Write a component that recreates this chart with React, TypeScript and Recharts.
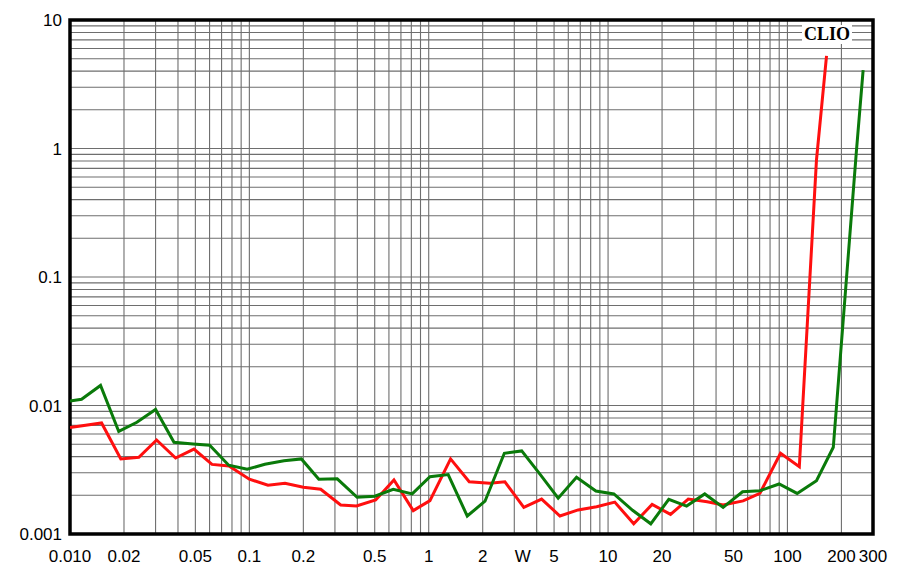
import { LineChart, Line, XAxis, YAxis, CartesianGrid, ReferenceArea } from 'recharts'

// red trace
const RED_X = [0.01, 0.015, 0.0192, 0.0242, 0.0304, 0.0388, 0.0491, 0.0619, 0.077, 0.1, 0.127, 0.158, 0.2, 0.25, 0.323, 0.396, 0.506, 0.64, 0.82, 1.016, 1.324, 1.682, 2.19, 2.66, 3.39, 4.26, 5.39, 6.81, 8.63, 10.9, 13.9, 17.6, 22.3, 28.0, 35.7, 43.8, 56.6, 70.2, 91.5, 116.5, 145.2, 165.2]
const RED_Y = [0.00674, 0.00731, 0.00384, 0.00395, 0.00539, 0.0039, 0.00458, 0.00348, 0.00338, 0.00267, 0.0024, 0.00248, 0.00231, 0.00223, 0.00168, 0.00165, 0.00184, 0.00263, 0.00152, 0.00182, 0.00384, 0.00255, 0.00248, 0.00255, 0.00161, 0.00187, 0.00138, 0.00154, 0.00163, 0.00177, 0.0012, 0.0017, 0.00142, 0.00187, 0.00178, 0.00168, 0.00181, 0.00207, 0.00425, 0.00334, 0.814, 5.25]

// green trace
const GREEN_X = [0.01, 0.0116, 0.0148, 0.0187, 0.0236, 0.03, 0.038, 0.0485, 0.0601, 0.0767, 0.0972, 0.122, 0.156, 0.195, 0.244, 0.309, 0.399, 0.501, 0.634, 0.809, 1.016, 1.284, 1.64, 2.06, 2.64, 3.3, 4.17, 5.27, 6.67, 8.55, 10.77, 13.7, 17.3, 21.8, 27.4, 34.6, 43.8, 56.2, 70.2, 89.9, 113.3, 145.2, 180.2, 242.7, 264.3]
const GREEN_Y = [0.01084, 0.01118, 0.01432, 0.00628, 0.0074, 0.00931, 0.00517, 0.00501, 0.0049, 0.00343, 0.00319, 0.00349, 0.00372, 0.00384, 0.00267, 0.00269, 0.00193, 0.00197, 0.00223, 0.00205, 0.00279, 0.0029, 0.00138, 0.0018, 0.00425, 0.00443, 0.00292, 0.0019, 0.00276, 0.00216, 0.00205, 0.00153, 0.0012, 0.00186, 0.00165, 0.00205, 0.00161, 0.00213, 0.00217, 0.00245, 0.00207, 0.0026, 0.00473, 0.973, 4.08]

const X_TICKS = [0.01, 0.02, 0.05, 0.1, 0.2, 0.5, 1, 2, 3.35, 5, 10, 20, 50, 100, 200, 300]
const X_TICK_LABELS = ['0.010', '0.02', '0.05', '0.1', '0.2', '0.5', '1', '2', 'W', '5', '10', '20', '50', '100', '200', '300']
const Y_TICKS = [0.001, 0.01, 0.1, 1, 10]
const Y_TICK_LABELS = ['0.001', '0.01', '0.1', '1', '10']

const X_GRID = [
  0.01, 0.02, 0.03, 0.04, 0.05, 0.06, 0.07, 0.08, 0.09,
  0.1, 0.2, 0.3, 0.4, 0.5, 0.6, 0.7, 0.8, 0.9,
  1, 2, 3, 4, 5, 6, 7, 8, 9,
  10, 20, 30, 40, 50, 60, 70, 80, 90,
  100, 200, 300,
]
const Y_GRID = [
  0.001, 0.002, 0.003, 0.004, 0.005, 0.006, 0.007, 0.008, 0.009,
  0.01, 0.02, 0.03, 0.04, 0.05, 0.06, 0.07, 0.08, 0.09,
  0.1, 0.2, 0.3, 0.4, 0.5, 0.6, 0.7, 0.8, 0.9,
  1, 2, 3, 4, 5, 6, 7, 8, 9, 10,
]

const redData = RED_X.map((x, i) => ({ x, y: RED_Y[i] }))
const greenData = GREEN_X.map((x, i) => ({ x, y: GREEN_Y[i] }))

const FONT = 'Arial, "Liberation Sans", sans-serif'
const TICK = { fontSize: 17, fill: '#000', fontFamily: FONT }

export default function App() {
  return (
    <div style={{ position: 'fixed', left: 0, top: 0, width: 900, height: 576, background: '#fff' }}>
      <LineChart width={900} height={576} margin={{ top: 20, right: 27, bottom: 0, left: 0 }}>
        <CartesianGrid
          xAxisId="b"
          yAxisId="l"
          stroke="#6e6e6e"
          strokeWidth={1.1}
          horizontalValues={Y_GRID}
          verticalValues={X_GRID}
        />
        <XAxis
          xAxisId="b"
          type="number"
          dataKey="x"
          scale="log"
          domain={[0.01, 300]}
          allowDataOverflow
          ticks={X_TICKS}
          interval={0}
          tickFormatter={(v) => X_TICK_LABELS[X_TICKS.indexOf(v)] ?? ''}
          tick={TICK}
          tickLine={false}
          tickSize={0}
          tickMargin={16}
          height={42}
          axisLine={false}
        />
        <YAxis
          yAxisId="l"
          type="number"
          scale="log"
          domain={[0.001, 10]}
          allowDataOverflow
          ticks={Y_TICKS}
          interval={0}
          tickFormatter={(v) => Y_TICK_LABELS[Y_TICKS.indexOf(v)] ?? ''}
          tick={TICK}
          tickLine={false}
          tickSize={0}
          tickMargin={8}
          width={70}
          axisLine={false}
        />
        <Line xAxisId="b" yAxisId="l" data={redData} dataKey="y" type="linear" stroke="#ff0f0f" strokeWidth={3} dot={false} isAnimationActive={false} />
        <Line xAxisId="b" yAxisId="l" data={greenData} dataKey="y" type="linear" stroke="#0a7a0a" strokeWidth={3} dot={false} isAnimationActive={false} />
        <ReferenceArea
          xAxisId="b"
          yAxisId="l"
          x1={0.01}
          x2={300}
          y1={0.001}
          y2={10}
          fill="none"
          fillOpacity={0}
          stroke="#000"
          strokeWidth={3.5}
          ifOverflow="visible"
        />
      </LineChart>
      <div
        style={{
          position: 'absolute', left: 802, top: 25, width: 50, height: 19,
          background: '#fff', fontFamily: '"Liberation Serif", "Times New Roman", serif',
          fontWeight: 'bold', fontSize: 18, lineHeight: '19px', textAlign: 'center', color: '#000',
        }}
      >
        CLIO
      </div>
    </div>
  )
}
